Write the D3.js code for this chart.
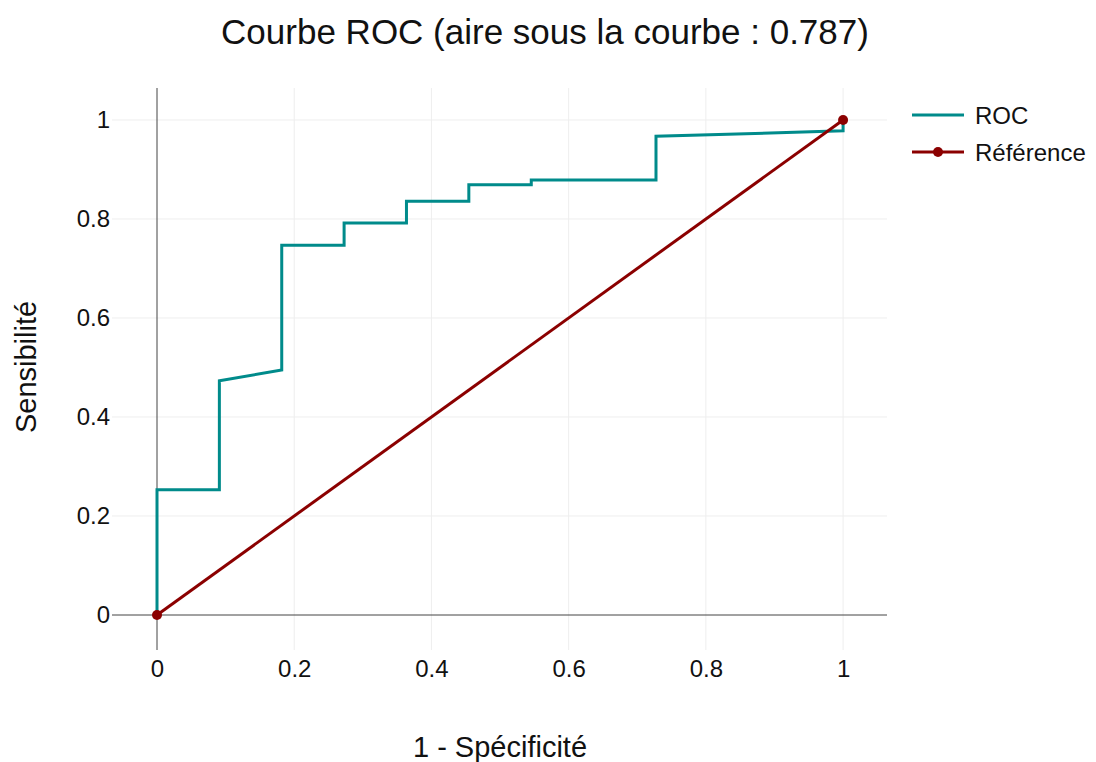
<!doctype html>
<html>
<head>
<meta charset="utf-8">
<title>Courbe ROC</title>
<style>
* {padding:0;margin:0}
body {background:#fff; font-family:"Liberation Sans", Arial, sans-serif;}
</style>
</head>
<body>
<div id="chart"></div>
<script src="https://d3js.org/d3.v7.min.js"></script>
<script>

	// donnees
	const rocX = [0, 0, 0.0909, 0.0909, 0.1818, 0.1818, 0.2727, 0.2727, 0.3636, 0.3636, 0.4545, 0.4545, 0.5455, 0.5455, 0.7273, 0.7273, 1, 1];
	const rocY = [0, 0.253, 0.253, 0.473, 0.495, 0.747, 0.747, 0.792, 0.792, 0.836, 0.836, 0.869, 0.869, 0.879, 0.879, 0.967, 0.978, 1];
	const refX = [0, 1];
	const refY = [0, 1];
	const xTicks = [0, 0.2, 0.4, 0.6, 0.8, 1];
	const yTicks = [0, 0.2, 0.4, 0.6, 0.8, 1];

	const W = 1096, H = 762;
	const plot = {left: 112, right: 887, top: 88, bottom: 650};

	const x = d3.scaleLinear().domain([-0.0656, 1.064]).range([plot.left, plot.right]);
	const y = d3.scaleLinear().domain([-0.0707, 1.0646]).range([plot.bottom, plot.top]);

	const svg = d3.select("#chart").append("svg")
		.attr("width", W)
		.attr("height", H);

	// grille
	svg.append("g").selectAll("line").data(xTicks.filter(d => d != 0)).enter()
		.append("line")
		.attr("x1", d => x(d)).attr("x2", d => x(d))
		.attr("y1", plot.top).attr("y2", plot.bottom)
		.attr("stroke", "#eeeeee").attr("stroke-width", 1);
	svg.append("g").selectAll("line").data(yTicks.filter(d => d != 0)).enter()
		.append("line")
		.attr("y1", d => y(d)).attr("y2", d => y(d))
		.attr("x1", plot.left).attr("x2", plot.right)
		.attr("stroke", "#eeeeee").attr("stroke-width", 1);

	// lignes zero
	svg.append("line")
		.attr("x1", x(0)).attr("x2", x(0))
		.attr("y1", plot.top).attr("y2", plot.bottom)
		.attr("stroke", "#444").attr("stroke-width", 1);
	svg.append("line")
		.attr("y1", y(0)).attr("y2", y(0))
		.attr("x1", plot.left).attr("x2", plot.right)
		.attr("stroke", "#444").attr("stroke-width", 1);

	// axes
	const xAxis = d3.axisBottom(x).tickValues(xTicks).tickSize(0).tickPadding(10).tickFormat(d3.format("~g"));
	svg.append("g")
		.attr("transform", "translate(0," + plot.bottom + ")")
		.call(xAxis)
		.call(g => g.select(".domain").remove())
		.selectAll("text")
		.attr("font-size", 24).attr("font-family", "Liberation Sans, Arial, sans-serif").attr("fill", "#111");

	const yAxis = d3.axisLeft(y).tickValues(yTicks).tickSize(0).tickPadding(0).tickFormat(d3.format("~g"));
	svg.append("g")
		.attr("transform", "translate(" + (plot.left - 2) + ",0)")
		.call(yAxis)
		.call(g => g.select(".domain").remove())
		.selectAll("text")
		.attr("font-size", 24).attr("font-family", "Liberation Sans, Arial, sans-serif").attr("fill", "#111");

	// courbes
	const line = d3.line().x(d => x(d[0])).y(d => y(d[1]));
	const rocData = rocX.map((v, i) => [v, rocY[i]]);
	const refData = refX.map((v, i) => [v, refY[i]]);

	svg.append("path")
		.datum(rocData)
		.attr("d", line)
		.attr("fill", "none")
		.attr("stroke", "#008b8b")
		.attr("stroke-width", 3);

	svg.append("path")
		.datum(refData)
		.attr("d", line)
		.attr("fill", "none")
		.attr("stroke", "#8b0000")
		.attr("stroke-width", 3);

	svg.selectAll("circle.ref").data(refData).enter()
		.append("circle")
		.attr("cx", d => x(d[0]))
		.attr("cy", d => y(d[1]))
		.attr("r", 5)
		.attr("fill", "#8b0000");

	// titre
	svg.append("text")
		.attr("x", 545).attr("y", 44)
		.attr("text-anchor", "middle")
		.attr("font-size", 35)
		.attr("fill", "#111")
		.text("Courbe ROC (aire sous la courbe : 0.787)");

	svg.append("text")
		.attr("x", 500).attr("y", 757)
		.attr("text-anchor", "middle")
		.attr("font-size", 29)
		.attr("fill", "#111")
		.text("1 - Spécificité");

	svg.append("text")
		.attr("transform", "translate(36,367) rotate(-90)")
		.attr("text-anchor", "middle")
		.attr("font-size", 29)
		.attr("fill", "#111")
		.text("Sensibilité");

	// legende
	const legend = svg.append("g").attr("transform", "translate(912,0)");
	const items = [{name: "ROC", color: "#008b8b", marker: false, y: 115},
		{name: "Référence", color: "#8b0000", marker: true, y: 152}];
	items.forEach(function(it) {
		legend.append("line")
			.attr("x1", 0).attr("x2", 52)
			.attr("y1", it.y).attr("y2", it.y)
			.attr("stroke", it.color).attr("stroke-width", 3);
		if (it.marker) {
			legend.append("circle").attr("cx", 26).attr("cy", it.y).attr("r", 5).attr("fill", it.color);
		}
		legend.append("text")
			.attr("x", 63).attr("y", it.y + 8.5)
			.attr("font-size", 24)
			.attr("fill", "#111")
			.text(it.name);
	});

</script>
</body>
</html>
